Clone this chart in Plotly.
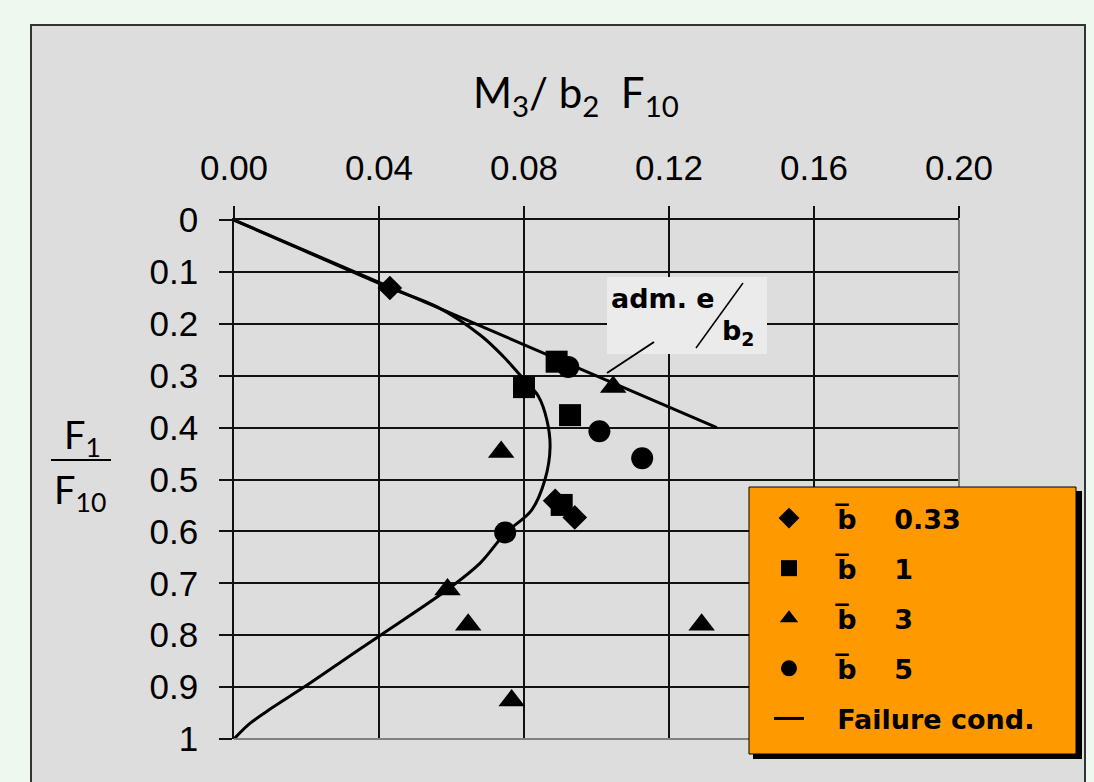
import plotly.graph_objects as go

# ---------------- data ----------------
b033_x = [0.043, 0.0886, 0.094]
b033_y = [0.131, 0.541, 0.573]

b1_x = [0.089, 0.080, 0.0927, 0.0904]
b1_y = [0.273, 0.322, 0.376, 0.549]

b3_x = [0.1046, 0.0737, 0.0589, 0.0646, 0.129, 0.0766]
b3_y = [0.322, 0.447, 0.712, 0.780, 0.780, 0.926]

b5_x = [0.0922, 0.1008, 0.1126, 0.0748]
b5_y = [0.283, 0.407, 0.459, 0.602]

fail_x = [0.0, 0.0163, 0.043, 0.0559, 0.0679, 0.0743, 0.0789, 0.084, 0.0863,
          0.0872, 0.0858, 0.0821, 0.0748, 0.0679, 0.0589, 0.0401, 0.0296,
          0.0191, 0.0105, 0.0044, 0.0]
fail_y = [0.0, 0.05, 0.131, 0.167, 0.2216, 0.263, 0.2987, 0.34, 0.385,
          0.437, 0.50, 0.559, 0.604, 0.661, 0.712, 0.8015, 0.851,
          0.901, 0.940, 0.970, 1.0]

adm_x = [0.0, 0.1332]
adm_y = [0.0, 0.40]

x_ticks = [0.00, 0.04, 0.08, 0.12, 0.16, 0.20]
y_ticks = [0, 0.1, 0.2, 0.3, 0.4, 0.5, 0.6, 0.7, 0.8, 0.9, 1.0]
y_tick_text = ["0", "0.1", "0.2", "0.3", "0.4", "0.5", "0.6", "0.7", "0.8", "0.9", "1"]

legend_names = ["b\u0305    0.33", "b\u0305    1", "b\u0305    3", "b\u0305    5", "Failure cond."]

# ---------------- layout geometry ----------------
W, H = 1094, 782
ML, MR, MT, MB = 234, 135, 220, 43
PW, PH = W - ML - MR, H - MT - MB


def px(x):
    return (x - ML) / PW


def py(y):
    return (H - MB - y) / PH


BG_PAGE = "#EEF8EE"
BG_CHART = "#DDDDDD"
LEAD = "\u00a0" * 3
BOLD = dict(family="DejaVu Sans", size=27, color="black", weight="bold")

fig = go.Figure()

marker_line = dict(width=0)
fig.add_trace(go.Scatter(x=b033_x, y=b033_y, mode="markers", name=LEAD + legend_names[0],
                         legendgroup="a",
                         marker=dict(symbol="diamond", size=19, color="black", line=marker_line)))
fig.add_trace(go.Scatter(x=b1_x, y=b1_y, mode="markers", name=LEAD + legend_names[1],
                         legendgroup="b",
                         marker=dict(symbol="square", size=22, color="black", line=marker_line)))
fig.add_trace(go.Scatter(x=b3_x, y=b3_y, mode="markers", name=LEAD + legend_names[2],
                         legendgroup="c",
                         marker=dict(symbol="triangle-up", size=23, color="black", line=marker_line)))
fig.add_trace(go.Scatter(x=b5_x, y=b5_y, mode="markers", name=LEAD + legend_names[3],
                         legendgroup="d",
                         marker=dict(symbol="circle", size=22, color="black", line=marker_line)))
fig.add_trace(go.Scatter(x=fail_x, y=fail_y, mode="lines", name=LEAD + legend_names[4],
                         legendgroup="e",
                         line=dict(color="black", width=3, shape="spline", smoothing=1.0)))
fig.add_trace(go.Scatter(x=adm_x, y=adm_y, mode="lines", showlegend=False,
                         line=dict(color="black", width=3)))

shapes = [
    # outer chart frame
    dict(type="rect", xref="paper", yref="paper", layer="below",
         x0=px(31), x1=px(1085), y0=py(800), y1=py(25),
         fillcolor=BG_CHART, line=dict(color="#333333", width=2)),
    # gray right / bottom border of the plot area
    dict(type="line", xref="paper", yref="paper", layer="above",
         x0=1, x1=1, y0=0, y1=1, line=dict(color="#808080", width=2)),
    dict(type="line", xref="paper", yref="paper", layer="above",
         x0=0, x1=1, y0=0, y1=0, line=dict(color="#808080", width=2)),
    # annotation box "adm. e / b2"
    dict(type="rect", xref="paper", yref="paper", layer="above",
         x0=px(607), x1=px(767), y0=py(354), y1=py(277),
         fillcolor="#EBEBEB", line=dict(width=0)),
    dict(type="line", xref="paper", yref="paper", layer="above",
         x0=px(743), x1=px(696), y0=py(283), y1=py(348),
         line=dict(color="black", width=1.5)),
    dict(type="line", xref="paper", yref="paper", layer="above",
         x0=px(654), x1=px(607), y0=py(342), y1=py(373),
         line=dict(color="black", width=2)),
    # legend shadow and box
    dict(type="rect", xref="paper", yref="paper", layer="above",
         x0=px(753), x1=px(1082), y0=py(759), y1=py(491),
         fillcolor="black", line=dict(width=0)),
    dict(type="rect", xref="paper", yref="paper", layer="above",
         x0=px(749), x1=px(1076), y0=py(754), y1=py(487),
         fillcolor="#FF9900", line=dict(color="black", width=1)),
    # y-label fraction bar
    dict(type="line", xref="paper", yref="paper",
         x0=px(51), x1=px(111), y0=py(460), y1=py(460),
         line=dict(color="black", width=2)),
]

TITLE_FONT = dict(family="Lato", size=42, color="black")
annotations = [
    dict(xref="paper", yref="paper", x=px(576), y=py(95), xanchor="center", yanchor="middle",
         text="M<sub>3</sub>/ b<sub>2</sub>  F<sub>10</sub>", showarrow=False, font=TITLE_FONT),
    dict(xref="paper", yref="paper", x=px(82), y=py(437), xanchor="center", yanchor="middle",
         text="F<sub>1</sub>", showarrow=False, font=dict(family="Lato", size=38, color="black")),
    dict(xref="paper", yref="paper", x=px(80), y=py(492), xanchor="center", yanchor="middle",
         text="F<sub>10</sub>", showarrow=False, font=dict(family="Lato", size=38, color="black")),
    dict(xref="paper", yref="paper", x=px(609), y=py(298), xanchor="left", yanchor="middle",
         text="adm. e", showarrow=False, font=BOLD),
    dict(xref="paper", yref="paper", x=px(720), y=py(332), xanchor="left", yanchor="middle",
         text="b<sub>2</sub>", showarrow=False, font=BOLD),
]

TICK_FONT = dict(family="Liberation Sans", size=35, color="black")

fig.update_layout(
    width=W, height=H,
    margin=dict(l=ML, r=MR, t=MT, b=MB, pad=0),
    paper_bgcolor=BG_PAGE,
    plot_bgcolor=BG_CHART,
    shapes=shapes,
    annotations=annotations,
    showlegend=True,
    legend=dict(
        x=px(769), y=py(494), xanchor="left", yanchor="top",
        bgcolor="rgba(0,0,0,0)", borderwidth=0,
        font=dict(family="DejaVu Sans", size=27, color="black", weight="bold"),
        traceorder="grouped", tracegroupgap=12, itemwidth=30,
    ),
    xaxis=dict(
        side="top", range=[0, 0.20], tickvals=x_ticks, tickformat=".2f",
        showgrid=True, gridcolor="#111111", gridwidth=1.5,
        showline=True, linecolor="#111111", linewidth=1.5,
        ticks="outside", ticklen=12, tickcolor="#111111", tickwidth=1.5,
        tickfont=TICK_FONT, ticklabelstandoff=12, zeroline=False,
    ),
    yaxis=dict(
        range=[1.0, 0.0], tickvals=y_ticks, ticktext=y_tick_text,
        showgrid=True, gridcolor="#111111", gridwidth=1.5,
        showline=True, linecolor="#111111", linewidth=1.5,
        ticks="outside", ticklen=13, tickcolor="#111111", tickwidth=1.5,
        tickfont=TICK_FONT, ticklabelstandoff=14, zeroline=False,
    ),
)

fig.write_html(
    "out.html",
    config={"displayModeBar": False},
    post_script="document.body.style.margin='0';document.body.style.background='%s';" % BG_PAGE,
)
